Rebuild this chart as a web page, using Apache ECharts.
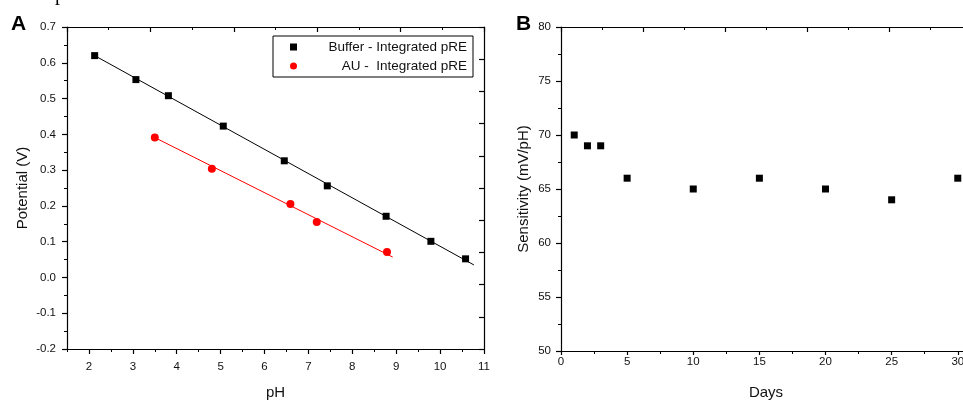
<!DOCTYPE html>
<html>
<head>
<meta charset="utf-8">
<script src="https://cdn.jsdelivr.net/npm/echarts@6/dist/echarts.min.js"></script>
<style>
  html, body { margin: 0; padding: 0; background: #fff; }
  #chart { width: 963px; height: 400px; }
</style>
</head>
<body>
<div id="chart"></div>
<script>
// Panel A: calibration in buffer and in artificial urine
const bufferPH = [2.13, 3.07, 3.81, 5.06, 6.45, 7.43, 8.77, 9.79, 10.58];
const bufferPotential = [0.620, 0.553, 0.508, 0.423, 0.326, 0.256, 0.171, 0.101, 0.052];
const auPH = [3.50, 4.80, 6.59, 7.19, 8.79];
const auPotential = [0.391, 0.304, 0.205, 0.155, 0.071];
// Linear fit end points
const bufferFitPH = [2.13, 10.77];
const bufferFitPotential = [0.620, 0.035];
const auFitPH = [3.50, 8.92];
const auFitPotential = [0.391, 0.057];
const phTicks = [2, 3, 4, 5, 6, 7, 8, 9, 10, 11];
const phMinorTicks = [1.5, 2.5, 3.5, 4.5, 5.5, 6.5, 7.5, 8.5, 9.5, 10.5];

// Panel B: sensitivity over time
const days = [1, 2, 3, 5, 10, 15, 20, 25, 30];
const sensitivity = [70, 69, 69, 66, 65, 66, 65, 64, 66];

const seriesNames = ['Buffer - Integrated pRE', 'AU -  Integrated pRE'];

const FONT = 'Liberation Sans, Arial, sans-serif';
const INK = '#000';
const zip = (xs, ys) => xs.map((x, i) => [x, ys[i]]);

const line = { show: true, onZero: false, lineStyle: { color: INK, width: 1.2 } };
const tickOut = { show: true, inside: false, length: 5, lineStyle: { color: INK, width: 1.2 } };
const tickIn = { show: true, inside: true, length: 5, lineStyle: { color: INK, width: 1.2 } };
const minorOut = { show: true, splitNumber: 2, length: 3, lineStyle: { color: INK, width: 1 } };
const minorIn = { show: true, splitNumber: 2, length: 3, lineStyle: { color: INK, width: 1 } };
const label = { color: '#111', fontFamily: FONT, fontSize: 11.5 };
const nameStyle = { color: '#111', fontFamily: FONT, fontSize: 15 };

const chart = echarts.init(document.getElementById('chart'), null, { renderer: 'canvas' });

chart.setOption({
  animation: false,
  backgroundColor: '#fff',
  grid: [
    { left: 67, top: 27, width: 417, height: 322, containLabel: false, outerBoundsMode: 'none' },
    { left: 561, top: 27, width: 410, height: 324, containLabel: false, outerBoundsMode: 'none' }
  ],
  legend: {
    data: [
      { name: seriesNames[0], icon: 'rect', itemStyle: { color: INK, opacity: 1 } },
      { name: seriesNames[1], icon: 'circle', itemStyle: { color: '#ff0000', opacity: 1 } }
    ],
    left: 273,
    top: 36,
    orient: 'vertical',
    itemWidth: 7,
    itemHeight: 7,
    itemGap: 5,
    padding: [4, 6, 4, 17],
    borderColor: INK,
    borderWidth: 1,
    borderRadius: 0,
    selectedMode: false,
    formatter: n => '{t|' + n + '}',
    textStyle: {
      color: '#111',
      fontFamily: FONT,
      fontSize: 13.5,
      rich: { t: { width: 165, align: 'right', fontFamily: FONT, fontSize: 13.5, color: '#111' } }
    }
  },
  xAxis: [
    {
      gridIndex: 0, type: 'value', position: 'bottom', min: 1.5, max: 11,
      name: 'pH', nameLocation: 'middle', nameGap: 36, nameTextStyle: nameStyle,
      axisLine: line,
      axisTick: Object.assign({}, tickOut, { customValues: phTicks }),
      axisLabel: Object.assign({}, label, { customValues: phTicks, margin: 12 }),
      splitLine: { show: false }
    },
    {
      gridIndex: 0, type: 'value', position: 'bottom', min: 1.5, max: 11,
      axisLine: { show: false, onZero: false },
      axisTick: { show: true, inside: false, length: 3, customValues: phMinorTicks, lineStyle: { color: INK, width: 1 } },
      axisLabel: { show: false },
      splitLine: { show: false }
    },
    {
      gridIndex: 0, type: 'value', position: 'top', min: 0, max: 10, interval: 2,
      axisLine: line, axisTick: tickIn, minorTick: minorIn,
      axisLabel: { show: false }, splitLine: { show: false }
    },
    {
      gridIndex: 1, type: 'value', position: 'bottom', min: 0, max: 31, interval: 5,
      name: 'Days', nameLocation: 'middle', nameGap: 34, nameTextStyle: nameStyle,
      axisLine: line,
      axisTick: Object.assign({}, tickOut, { length: 4 }),
      minorTick: minorOut,
      axisLabel: Object.assign({}, label, { margin: 5, interval: 0, formatter: v => (v % 5 === 0 ? String(v) : '') }),
      splitLine: { show: false }
    },
    {
      gridIndex: 1, type: 'value', position: 'top', min: 0, max: 10, interval: 2,
      axisLine: line, axisTick: tickIn, minorTick: minorIn,
      axisLabel: { show: false }, splitLine: { show: false }
    }
  ],
  yAxis: [
    {
      gridIndex: 0, type: 'value', position: 'left', min: -0.2, max: 0.7, interval: 0.1,
      name: 'Potential (V)', nameLocation: 'middle', nameGap: 37, nameTextStyle: nameStyle,
      axisLine: line, axisTick: tickOut, minorTick: minorOut,
      axisLabel: Object.assign({}, label, { margin: 11, formatter: v => v.toFixed(1) }),
      splitLine: { show: false }
    },
    {
      gridIndex: 0, type: 'value', position: 'right', min: 0, max: 10, interval: 1,
      axisLine: line, axisTick: tickIn,
      axisLabel: { show: false }, splitLine: { show: false }
    },
    {
      gridIndex: 1, type: 'value', position: 'left', min: 50, max: 80, interval: 5,
      name: 'Sensitivity (mV/pH)', nameLocation: 'middle', nameGap: 30, nameTextStyle: nameStyle,
      axisLine: line, axisTick: tickOut, minorTick: minorOut,
      axisLabel: Object.assign({}, label, { margin: 10 }),
      splitLine: { show: false }
    }
  ],
  series: [
    {
      name: 'bufferFit', type: 'line', xAxisIndex: 0, yAxisIndex: 0,
      data: zip(bufferFitPH, bufferFitPotential), symbol: 'none',
      lineStyle: { color: INK, width: 1 }, z: 2, silent: true
    },
    {
      name: 'auFit', type: 'line', xAxisIndex: 0, yAxisIndex: 0,
      data: zip(auFitPH, auFitPotential), symbol: 'none',
      lineStyle: { color: '#ff0000', width: 1 }, z: 2, silent: true
    },
    {
      name: seriesNames[0], type: 'scatter', xAxisIndex: 0, yAxisIndex: 0,
      data: zip(bufferPH, bufferPotential), symbol: 'rect', symbolSize: 7,
      itemStyle: { color: INK, opacity: 1 }, z: 3
    },
    {
      name: seriesNames[1], type: 'scatter', xAxisIndex: 0, yAxisIndex: 0,
      data: zip(auPH, auPotential), symbol: 'circle', symbolSize: 8,
      itemStyle: { color: '#ff0000', opacity: 1 }, z: 3
    },
    {
      name: 'sensitivity', type: 'scatter', xAxisIndex: 3, yAxisIndex: 2,
      data: zip(days, sensitivity), symbol: 'rect', symbolSize: 7,
      itemStyle: { color: INK, opacity: 1 }, z: 3
    }
  ],
  graphic: [
    { type: 'text', left: 11, top: 14, style: { text: 'A', font: 'bold 21px ' + FONT, fill: INK } },
    { type: 'text', left: 516, top: 14, style: { text: 'B', font: 'bold 21px ' + FONT, fill: INK } },
    { type: 'text', x: 55, y: 5, style: { text: 'p', font: '20px Liberation Serif, serif', fill: INK, verticalAlign: 'bottom' } }
  ]
});
</script>
</body>
</html>
